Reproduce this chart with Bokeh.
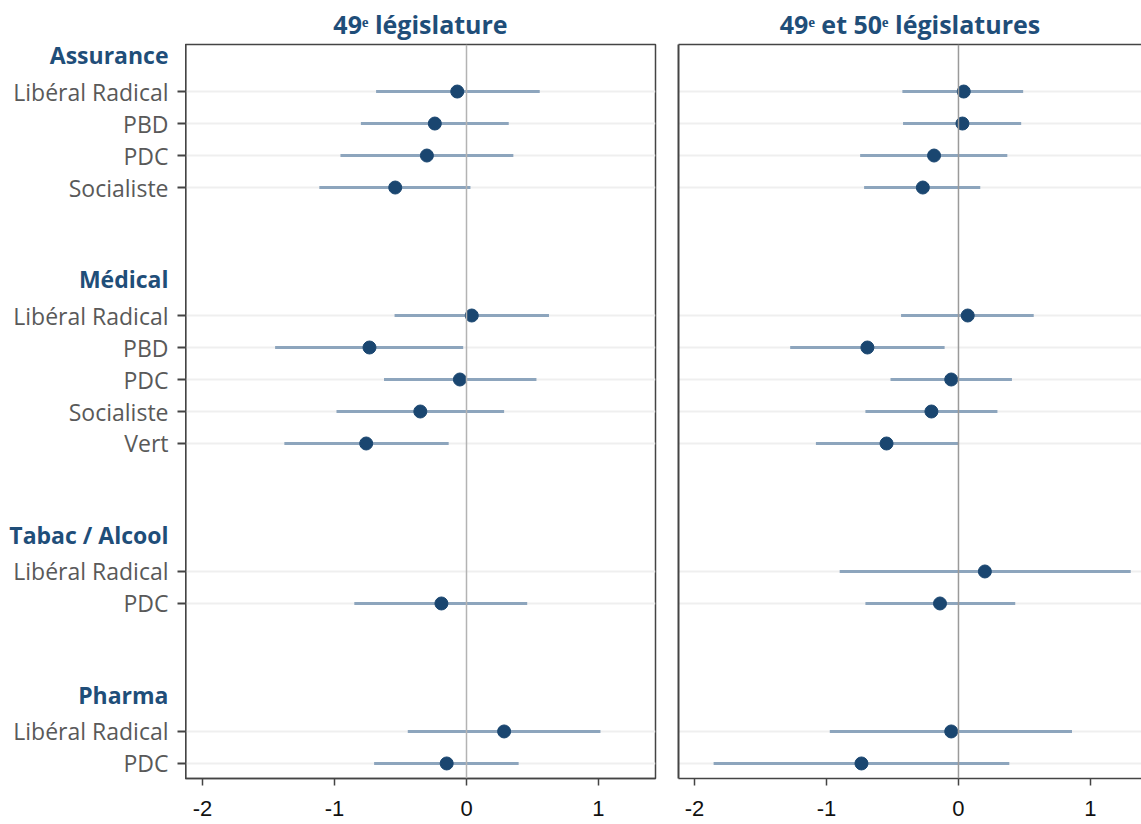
from bokeh.plotting import figure
from bokeh.models import Range1d, FixedTicker, Span, LinearAxis, ColumnDataSource
from bokeh.core.properties import value
from bokeh.layouts import row
from bokeh.embed import file_html
from bokeh.resources import INLINE

nan = float("nan")

# ---- data ----
groups = ["Assurance", "Médical", "Tabac / Alcool", "Pharma"]
group_parties = [
    ["Libéral Radical", "PBD", "PDC", "Socialiste"],
    ["Libéral Radical", "PBD", "PDC", "Socialiste", "Vert"],
    ["Libéral Radical", "PDC"],
    ["Libéral Radical", "PDC"],
]
panel_titles = ["49ᵉ législature", "49ᵉ et 50ᵉ législatures"]

est_49 = [-0.07, -0.24, -0.30, -0.54, 0.04, -0.735, -0.05, -0.35, -0.76, nan, -0.19, 0.285, -0.15]
lo_49 = [-0.685, -0.80, -0.955, -1.115, -0.545, -1.45, -0.625, -0.985, -1.38, nan, -0.85, -0.445, -0.70]
hi_49 = [0.555, 0.32, 0.355, 0.03, 0.625, -0.025, 0.53, 0.285, -0.135, nan, 0.46, 1.015, 0.395]

est_4950 = [0.04, 0.03, -0.185, -0.27, 0.07, -0.69, -0.055, -0.205, -0.545, 0.20, -0.14, -0.055, -0.735]
lo_4950 = [-0.425, -0.42, -0.745, -0.715, -0.435, -1.275, -0.515, -0.705, -1.08, -0.90, -0.705, -0.975, -1.855]
hi_4950 = [0.49, 0.475, 0.37, 0.165, 0.57, -0.105, 0.405, 0.295, 0.0, 1.305, 0.43, 0.86, 0.385]

x_ticks = [-2, -1, 0, 1]
x_tick_labels = ["-2", "-1", "0", "1"]

# ---- row positions ----
item_y, item_lab, head_y = [], [], []
pos = 0
for g, plist in zip(groups, group_parties):
    head_y.append(pos - 1.15)
    for pt in plist:
        item_y.append(pos)
        item_lab.append(pt)
        pos += 1
    pos += 3

DOT = "#1a4670"
CI = "#8da5bd"
HEAD = "#1f4e79"
AX = "#444444"
FH = 734
TOP = 43
BOT = 45
yr = Range1d(21.47, -1.47)

# ---- label column (category labels, group headers, y tick marks) ----
LW = 185
lab = figure(frame_width=LW, frame_height=FH, output_backend="svg", toolbar_location=None,
             x_range=Range1d(0, LW), y_range=yr, x_axis_location=None, y_axis_location=None,
             min_border_left=0, min_border_right=0, min_border_top=TOP, min_border_bottom=BOT,
             outline_line_color=None)
lab.grid.visible = False
lab.text(x=[LW - 17] * len(item_y), y=item_y, text=item_lab, text_align="right",
         text_baseline="middle", text_font=value("Open Sans"), text_font_size="23px",
         text_color="#595959")
lab.text(x=[LW - 17] * len(head_y), y=head_y, text=groups, text_align="right",
         text_baseline="middle", text_font=value("Open Sans"), text_font_style="bold",
         text_font_size="23px", text_color=HEAD)
lab.segment(x0=[LW - 8] * len(item_y), y0=item_y, x1=[LW] * len(item_y), y1=item_y,
            line_color=AX, line_width=2)


def panel(est, lo, hi, title, xs, xe, fw, left, mbl, mbr):
    p = figure(frame_width=fw, frame_height=FH, output_backend="svg", toolbar_location=None,
               x_range=Range1d(xs, xe), y_range=yr,
               min_border_left=mbl, min_border_right=mbr, min_border_top=TOP, min_border_bottom=BOT,
               background_fill_color="white", border_fill_color="white")
    p.title.text = title
    p.title.align = "center"
    p.title.text_font = "Open Sans"
    p.title.text_font_style = "bold"
    p.title.text_font_size = "25px"
    p.title.text_color = HEAD
    p.title.standoff = 8

    src = ColumnDataSource(dict(y=item_y, est=est, lo=lo, hi=hi))
    p.xgrid.visible = False
    p.ygrid.ticker = FixedTicker(ticks=item_y)
    p.ygrid.grid_line_color = "#efefef"
    p.ygrid.grid_line_width = 2

    p.add_layout(Span(location=0, dimension="height",
                      line_color="#b3b3b3" if left else "#9a9a9a", line_width=1.5))
    p.segment(x0="lo", y0="y", x1="hi", y1="y", source=src, line_color=CI, line_width=3)
    p.scatter(x="est", y="y", source=src, size=13, fill_color=DOT, line_color=DOT)

    xa = p.xaxis[0]
    xa.ticker = FixedTicker(ticks=x_ticks)
    xa.major_label_overrides = {t: l for t, l in zip(x_ticks, x_tick_labels)}
    xa.major_label_text_font = "Liberation Sans"
    xa.major_label_text_font_size = "22px"
    xa.major_label_text_color = "#111111"
    xa.major_tick_out = 7
    xa.major_tick_in = 0
    xa.minor_tick_line_color = None
    xa.major_tick_line_color = AX
    xa.major_tick_line_width = 1.5
    xa.axis_line_color = AX
    xa.axis_line_width = 1.5
    xa.major_label_standoff = 15

    ya = p.yaxis[0]
    ya.ticker = FixedTicker(ticks=[])
    ya.minor_tick_line_color = None
    ya.major_tick_line_color = None
    ya.major_tick_out = 0
    ya.major_tick_in = 0
    ya.major_label_standoff = 0
    ya.axis_line_color = AX
    ya.axis_line_width = 2
    if left:
        p.outline_line_color = AX
        p.outline_line_width = 1.5
    else:
        p.outline_line_color = None
        top = LinearAxis(ticker=FixedTicker(ticks=[]), axis_line_color=AX, axis_line_width=1.5,
                         major_tick_line_color=None, minor_tick_line_color=None,
                         major_tick_out=0, major_label_standoff=0)
        p.add_layout(top, "above")
    return p


p1 = panel(est_49, lo_49, hi_49, panel_titles[0], -2.129, 1.432, 470, True, 0, 10)
p2 = panel(est_4950, lo_4950, hi_4950, panel_titles[1], -2.121, 1.3865, 463, False, 13, 0)

layout = row(lab, p1, p2)
open("out.html", "w").write(file_html(layout, INLINE))
